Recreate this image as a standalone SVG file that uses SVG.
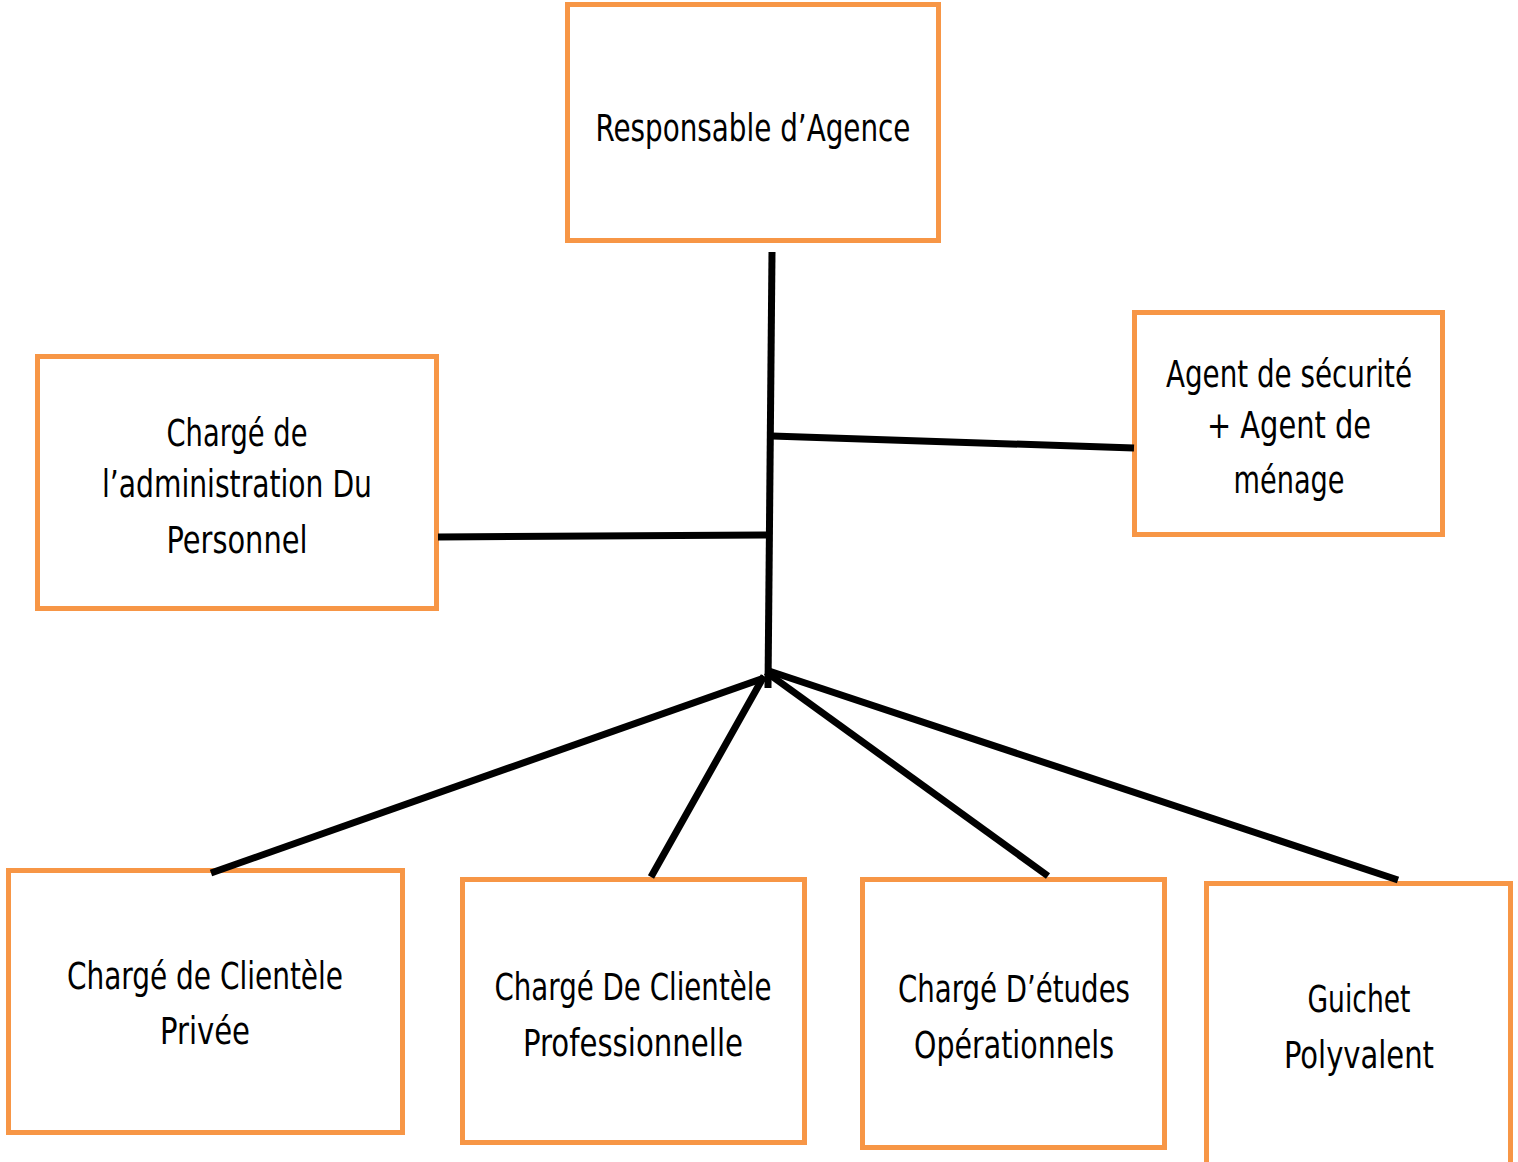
<svg xmlns="http://www.w3.org/2000/svg" width="1518" height="1162" viewBox="0 0 1518 1162">
<style>
.box{fill:#fff;stroke:#F79646;stroke-width:5}
.t{font-family:"DejaVu Sans Condensed","Liberation Sans Narrow","DejaVu Sans",sans-serif;font-stretch:condensed;font-size:37px;fill:#000;text-anchor:middle}
.c{stroke:#000;stroke-width:7;fill:none;stroke-linecap:butt}
</style>
<rect width="1518" height="1162" fill="#fff"/>
<g id="n-responsable">
<rect class="box" x="567.5" y="4.5" width="371" height="236"/>
<text class="t" x="753" y="141" textLength="315" lengthAdjust="spacingAndGlyphs">Responsable d’Agence</text>
</g>
<g id="n-admin">
<rect class="box" x="37.5" y="356.5" width="399" height="252"/>
<text class="t" x="237" y="446" textLength="141" lengthAdjust="spacingAndGlyphs">Chargé de</text>
<text class="t" x="237" y="497" textLength="270" lengthAdjust="spacingAndGlyphs">l’administration Du</text>
<text class="t" x="237" y="553" textLength="141" lengthAdjust="spacingAndGlyphs">Personnel</text>
</g>
<g id="n-securite">
<rect class="box" x="1134.5" y="312.5" width="308" height="222"/>
<text class="t" x="1289" y="387" textLength="246" lengthAdjust="spacingAndGlyphs">Agent de sécurité</text>
<text class="t" x="1289" y="438" textLength="164" lengthAdjust="spacingAndGlyphs">+ Agent de</text>
<text class="t" x="1289" y="493" textLength="111" lengthAdjust="spacingAndGlyphs">ménage</text>
</g>
<g id="n-privee">
<rect class="box" x="8.5" y="870.5" width="394" height="262"/>
<text class="t" x="205" y="989" textLength="276" lengthAdjust="spacingAndGlyphs">Chargé de Clientèle</text>
<text class="t" x="205" y="1044" textLength="90" lengthAdjust="spacingAndGlyphs">Privée</text>
</g>
<g id="n-pro">
<rect class="box" x="462.5" y="879.5" width="342" height="263"/>
<text class="t" x="633" y="1000" textLength="277" lengthAdjust="spacingAndGlyphs">Chargé De Clientèle</text>
<text class="t" x="633" y="1056" textLength="220" lengthAdjust="spacingAndGlyphs">Professionnelle</text>
</g>
<g id="n-etudes">
<rect class="box" x="862.5" y="879.5" width="302" height="268"/>
<text class="t" x="1014" y="1002" textLength="232" lengthAdjust="spacingAndGlyphs">Chargé D’études</text>
<text class="t" x="1014" y="1058" textLength="200" lengthAdjust="spacingAndGlyphs">Opérationnels</text>
</g>
<g id="n-guichet">
<rect class="box" x="1206.5" y="883.5" width="304" height="285"/>
<text class="t" x="1359" y="1012" textLength="103" lengthAdjust="spacingAndGlyphs">Guichet</text>
<text class="t" x="1359" y="1068" textLength="150" lengthAdjust="spacingAndGlyphs">Polyvalent</text>
</g>
<g id="connectors">
<line class="c" x1="772" y1="252" x2="768" y2="688"/>
<line class="c" x1="772" y1="436" x2="1134" y2="448"/>
<line class="c" x1="438" y1="537" x2="769" y2="535"/>
<line class="c" x1="764" y1="678" x2="211" y2="873"/>
<line class="c" x1="764" y1="676" x2="651" y2="877"/>
<line class="c" x1="766" y1="672" x2="1048" y2="876"/>
<line class="c" x1="766" y1="670" x2="1398" y2="880"/>
</g>
</svg>
